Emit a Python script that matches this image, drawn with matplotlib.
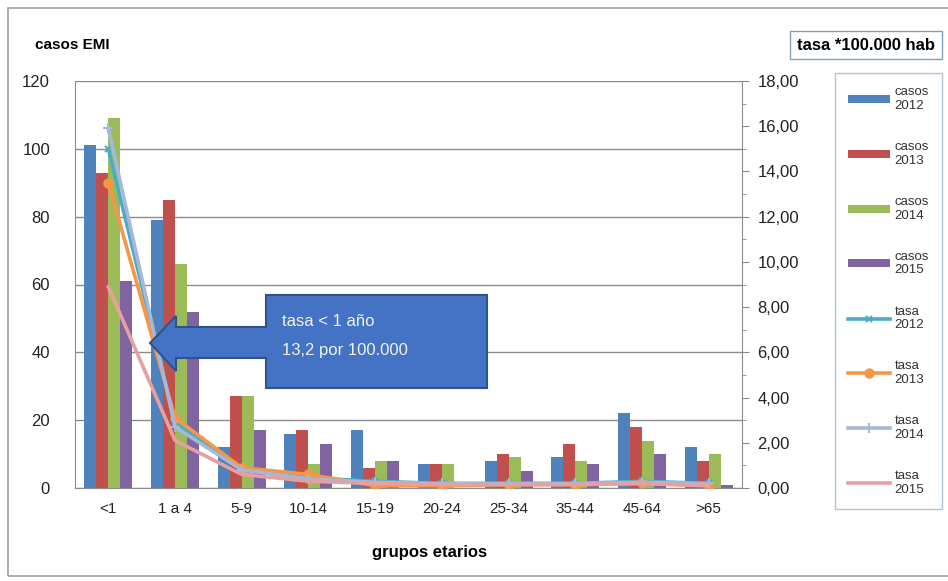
import matplotlib
matplotlib.use("Agg")
import matplotlib.pyplot as plt
import numpy as np
from matplotlib.patches import Rectangle, Polygon
from matplotlib.ticker import FuncFormatter, MultipleLocator

plt.rcParams['font.family'] = ['Liberation Sans', 'DejaVu Sans']

categories = ["<1", "1 a 4", "5-9", "10-14", "15-19", "20-24", "25-34", "35-44", "45-64", ">65"]
casos_2012 = [101, 79, 12, 16, 17, 7, 8, 9, 22, 12]
casos_2013 = [93, 85, 27, 17, 6, 7, 10, 13, 18, 8]
casos_2014 = [109, 66, 27, 7, 8, 7, 9, 8, 14, 10]
casos_2015 = [61, 52, 17, 13, 8, 0, 5, 7, 10, 1]
tasa_2012 = [15.0, 2.9, 0.8, 0.45, 0.3, 0.2, 0.2, 0.2, 0.3, 0.2]
tasa_2013 = [13.5, 3.1, 0.9, 0.6, 0.1, 0.1, 0.15, 0.15, 0.2, 0.1]
tasa_2014 = [15.9, 2.7, 0.8, 0.4, 0.25, 0.2, 0.2, 0.2, 0.25, 0.2]
tasa_2015 = [8.9, 2.1, 0.6, 0.3, 0.2, 0.15, 0.15, 0.15, 0.2, 0.1]

W, H = 948, 581
fig = plt.figure(figsize=(W / 100, H / 100), dpi=100)
fig.patch.set_facecolor('white')

def fx(px):
    return px / W

def fy(py):
    return 1 - py / H

# outer chart border
fig.patches.append(Rectangle((fx(8), fy(576)), fx(960) - fx(8), fy(8) - fy(576),
                             transform=fig.transFigure, fill=False, edgecolor='#a0a0a0', lw=1.2))

ax = fig.add_axes([fx(75), fy(488), fx(742) - fx(75), fy(81) - fy(488)])
ax2 = ax.twinx()

x = np.arange(len(categories))
bw = 0.18
bar_colors = ['#4F81BD', '#C0504D', '#9BBB59', '#8064A2']
casos = [casos_2012, casos_2013, casos_2014, casos_2015]
for i, (vals, c) in enumerate(zip(casos, bar_colors)):
    ax.bar(x + (i - 1.5) * bw, vals, width=bw, color=c, zorder=2)

ax.set_xlim(-0.5, len(categories) - 0.5)
ax.set_ylim(0, 120)
ax.yaxis.set_major_locator(MultipleLocator(20))
ax.grid(axis='y', color='#8c8c8c', lw=1, zorder=0)
ax.set_axisbelow(True)
ax.set_xticks(x)
ax.set_xticklabels(categories)
ax.tick_params(axis='x', length=0, labelsize=11, colors='#222222', pad=10)
ax.tick_params(axis='y', length=0, labelsize=12, colors='#222222', pad=18)
ax.spines['top'].set_visible(False)
ax.spines['left'].set_color('#8c8c8c')
ax.spines['bottom'].set_color('#8c8c8c')
ax.spines['right'].set_visible(False)

line_specs = [
    (tasa_2012, '#4BACC6', 'x', 5),
    (tasa_2013, '#F79646', 'o', 6),
    (tasa_2014, '#A5B8D8', '+', 7),
    (tasa_2015, '#E6A0A0', None, 0),
]
line_handles = []
for vals, c, m, ms in line_specs:
    l, = ax2.plot(x, vals, color=c, lw=2.6, marker=m, markersize=ms,
                  markeredgewidth=1.5, zorder=3)
    line_handles.append(l)

ax2.set_ylim(0, 18)
ax2.yaxis.set_major_locator(MultipleLocator(2))
ax2.yaxis.set_minor_locator(MultipleLocator(1))
ax2.yaxis.set_major_formatter(FuncFormatter(lambda v, p: f"{v:.2f}".replace('.', ',')))
ax2.tick_params(axis='y', which='major', length=5, labelsize=12, colors='#222222', pad=6)
ax2.tick_params(axis='y', which='minor', length=3, color='#8c8c8c')
ax2.tick_params(axis='y', which='major', color='#8c8c8c')
for s in ['top', 'left', 'bottom']:
    ax2.spines[s].set_visible(False)
ax2.spines['right'].set_color('#8c8c8c')

# titles
fig.text(fx(35), fy(45), "casos EMI", fontsize=11, fontweight='bold', va='center', ha='left')
fig.text(fx(797), fy(45), "tasa *100.000 hab", fontsize=12, fontweight='bold', va='center', ha='left',
         bbox=dict(boxstyle='square,pad=0.4', fc='white', ec='#7f9fbf', lw=1))
fig.text(fx(430), fy(552), "grupos etarios", fontsize=12, fontweight='bold', ha='center', va='center')

# callout arrow
pts = [(150, 343), (176, 316), (176, 327), (266, 327), (266, 295), (487, 295),
       (487, 388), (266, 388), (266, 358), (176, 358), (176, 371)]
poly = Polygon([(fx(px), fy(py)) for px, py in pts], closed=True, transform=fig.transFigure,
               fc='#4472C4', ec='#2F528F', lw=1.5, zorder=10)
fig.patches.append(poly)
fig.text(fx(282), fy(321), "tasa < 1 año", fontsize=12, color='#F2F2F2', va='center', ha='left', zorder=11)
fig.text(fx(282), fy(351), "13,2 por 100.000", fontsize=12, color='#F2F2F2', va='center', ha='left', zorder=11)

# legend
labels = ["casos\n2012", "casos\n2013", "casos\n2014", "casos\n2015",
          "tasa\n2012", "tasa\n2013", "tasa\n2014", "tasa\n2015"]
handles = [Rectangle((0, 0), 1, 1, fc=c) for c in bar_colors] + line_handles
leg = fig.legend(handles, labels, loc='upper left', bbox_to_anchor=(fx(835), fy(73)),
                 fontsize=9.5, frameon=True, fancybox=False, edgecolor='#a0b4c8',
                 labelspacing=2.2, handlelength=3.2, handleheight=0.55, handletextpad=0.3,
                 borderpad=1.0, borderaxespad=0)
leg.get_frame().set_linewidth(1)
for t in leg.get_texts():
    t.set_color('#333333')

fig.savefig("out.png", dpi=100)
